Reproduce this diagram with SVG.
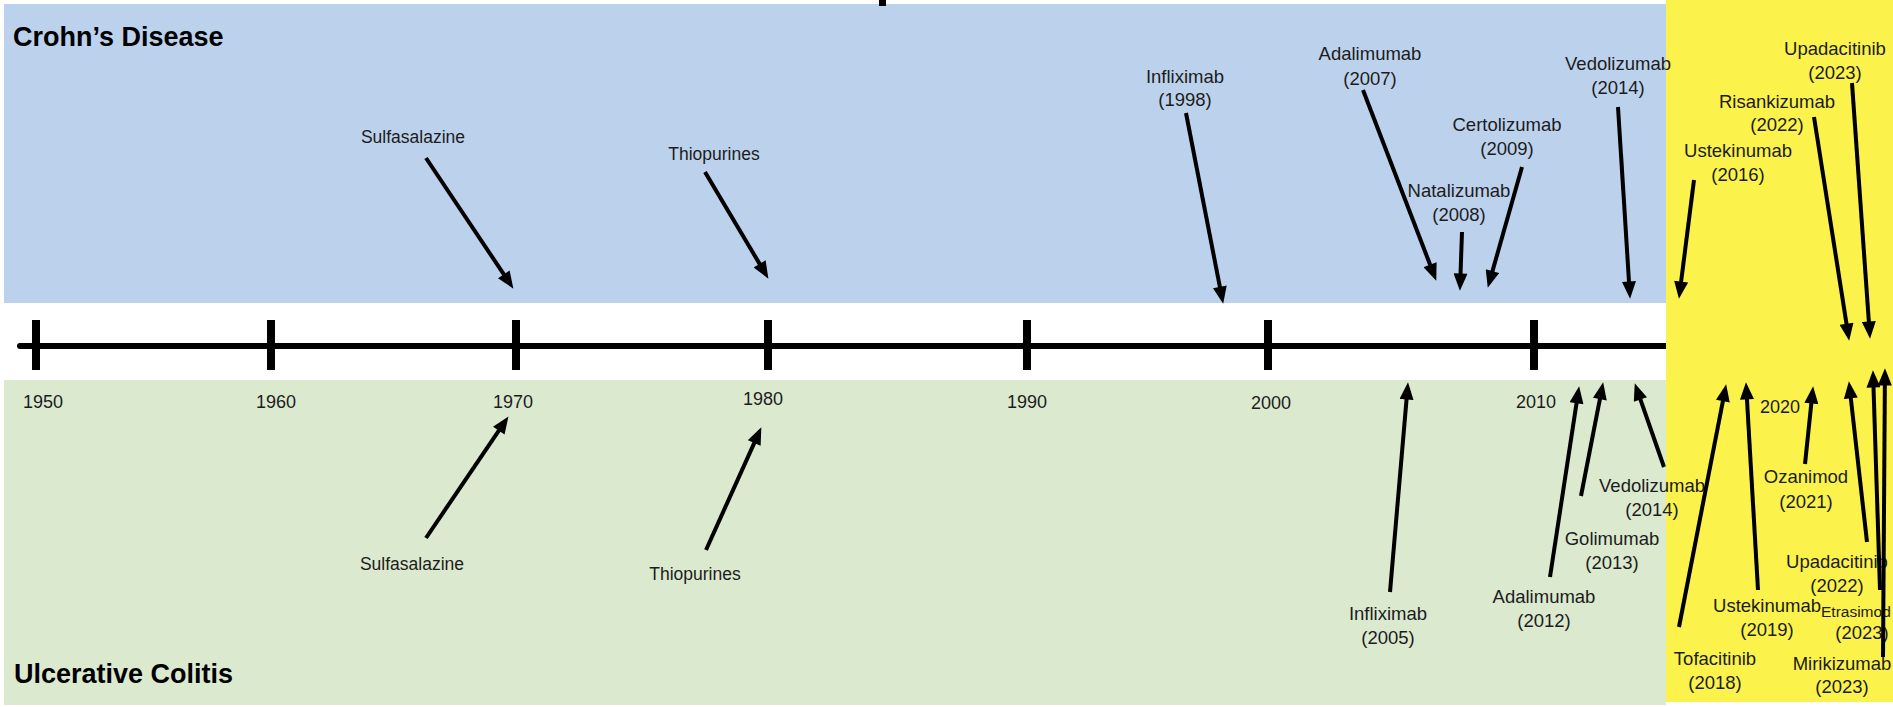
<svg xmlns="http://www.w3.org/2000/svg" width="1893" height="707" viewBox="0 0 1893 707">
<style>
text{font-family:"Liberation Sans",Arial,sans-serif;fill:#1c1c1c}
.lbl{font-size:18.5px;text-anchor:middle}
.lbs{font-size:17.5px;text-anchor:middle}
.yr{font-size:18px;text-anchor:middle}
.ttl{font-size:27px;font-weight:bold;fill:#000}
.arr{stroke:#000;stroke-width:4;fill:none;marker-end:url(#ah)}
.tick{stroke:#000;stroke-width:8}
</style>
<defs>
<marker id="ah" markerUnits="userSpaceOnUse" markerWidth="18" markerHeight="14" viewBox="0 0 16 13" refX="6" refY="6.5" orient="auto">
<path d="M0,0 L16,6.5 L0,13 z" fill="#000"/>
</marker>
</defs>
<rect width="1893" height="707" fill="#ffffff"/>
<g id="backgrounds">
<rect x="4" y="4" width="1662" height="299" fill="#bcd2ec"/>
<rect x="4" y="380" width="1662" height="325" fill="#dbe9cf"/>
</g>
<g id="timeline">
<line x1="20" y1="346" x2="1666" y2="346" stroke="#000" stroke-width="6" stroke-linecap="round"/>
<line class="tick" x1="36" y1="320" x2="36" y2="370"/>
<line class="tick" x1="271" y1="320" x2="271" y2="370"/>
<line class="tick" x1="516" y1="320" x2="516" y2="370"/>
<line class="tick" x1="768" y1="320" x2="768" y2="370"/>
<line class="tick" x1="1027" y1="320" x2="1027" y2="370"/>
<line class="tick" x1="1268" y1="320" x2="1268" y2="370"/>
<line class="tick" x1="1534" y1="320" x2="1534" y2="370"/>
</g>
<rect id="recent" x="1666" y="0" width="227" height="702" fill="#fbf34b"/>
<rect x="879" y="0" width="7" height="6" fill="#000"/>
<g id="titles">
<text class="ttl" x="13" y="46">Crohn’s Disease</text>
<text class="ttl" x="14" y="683">Ulcerative Colitis</text>
</g>
<g id="years">
<text class="yr" x="43" y="408">1950</text>
<text class="yr" x="276" y="408">1960</text>
<text class="yr" x="513" y="408">1970</text>
<text class="yr" x="763" y="405">1980</text>
<text class="yr" x="1027" y="408">1990</text>
<text class="yr" x="1271" y="409">2000</text>
<text class="yr" x="1536" y="408">2010</text>
<text class="yr" x="1780" y="413">2020</text>
</g>
<g id="cd-sulfasalazine"><text class="lbs" x="413" y="143">Sulfasalazine</text></g>
<g id="cd-thiopurines"><text class="lbs" x="714" y="160">Thiopurines</text></g>
<g id="cd-infliximab"><text class="lbl" x="1185" y="83">Infliximab</text><text class="lbl" x="1185" y="106">(1998)</text></g>
<g id="cd-adalimumab"><text class="lbl" x="1370" y="60">Adalimumab</text><text class="lbl" x="1370" y="85">(2007)</text></g>
<g id="cd-natalizumab"><text class="lbl" x="1459" y="197">Natalizumab</text><text class="lbl" x="1459" y="221">(2008)</text></g>
<g id="cd-certolizumab"><text class="lbl" x="1507" y="131">Certolizumab</text><text class="lbl" x="1507" y="155">(2009)</text></g>
<g id="cd-vedolizumab"><text class="lbl" x="1618" y="70">Vedolizumab</text><text class="lbl" x="1618" y="94">(2014)</text></g>
<g id="cd-ustekinumab"><text class="lbl" x="1738" y="157">Ustekinumab</text><text class="lbl" x="1738" y="181">(2016)</text></g>
<g id="cd-risankizumab"><text class="lbl" x="1777" y="108">Risankizumab</text><text class="lbl" x="1777" y="131">(2022)</text></g>
<g id="cd-upadacitinib"><text class="lbl" x="1835" y="55">Upadacitinib</text><text class="lbl" x="1835" y="79">(2023)</text></g>
<g id="uc-sulfasalazine"><text class="lbs" x="412" y="570">Sulfasalazine</text></g>
<g id="uc-thiopurines"><text class="lbs" x="695" y="580">Thiopurines</text></g>
<g id="uc-infliximab"><text class="lbl" x="1388" y="620">Infliximab</text><text class="lbl" x="1388" y="644">(2005)</text></g>
<g id="uc-adalimumab"><text class="lbl" x="1544" y="603">Adalimumab</text><text class="lbl" x="1544" y="627">(2012)</text></g>
<g id="uc-golimumab"><text class="lbl" x="1612" y="545">Golimumab</text><text class="lbl" x="1612" y="569">(2013)</text></g>
<g id="uc-vedolizumab"><text class="lbl" x="1652" y="492">Vedolizumab</text><text class="lbl" x="1652" y="516">(2014)</text></g>
<g id="uc-tofacitinib"><text class="lbl" x="1715" y="665">Tofacitinib</text><text class="lbl" x="1715" y="689">(2018)</text></g>
<g id="uc-ustekinumab"><text class="lbl" x="1767" y="612">Ustekinumab</text><text class="lbl" x="1767" y="636">(2019)</text></g>
<g id="uc-ozanimod"><text class="lbl" x="1806" y="483">Ozanimod</text><text class="lbl" x="1806" y="508">(2021)</text></g>
<g id="uc-upadacitinib"><text class="lbl" x="1837" y="568">Upadacitinib</text><text class="lbl" x="1837" y="592">(2022)</text></g>
<g id="uc-etrasimod"><text x="1821" y="617" font-size="15.5">Etrasimod</text><text class="lbl" x="1862" y="639">(2023)</text></g>
<g id="uc-mirikizumab"><text class="lbl" x="1842" y="670">Mirikizumab</text><text class="lbl" x="1842" y="693">(2023)</text></g>
<g id="connectors">
<line class="arr" x1="426" y1="158" x2="507.4" y2="279.7"/>
<line class="arr" x1="705" y1="172" x2="762.9" y2="269.4"/>
<line class="arr" x1="1186" y1="113" x2="1221.1" y2="293.2"/>
<line class="arr" x1="1363" y1="90" x2="1432.4" y2="270.7"/>
<line class="arr" x1="1462" y1="232" x2="1460.3" y2="280"/>
<line class="arr" x1="1522" y1="167" x2="1490.7" y2="277.4"/>
<line class="arr" x1="1618" y1="107" x2="1629.4" y2="288"/>
<line class="arr" x1="1694" y1="180" x2="1680.3" y2="288.1"/>
<line class="arr" x1="1814" y1="117" x2="1847.5" y2="330.1"/>
<line class="arr" x1="1852" y1="83" x2="1869.3" y2="328"/>
<line class="arr" x1="426" y1="538" x2="502.4" y2="425.3"/>
<line class="arr" x1="706" y1="550" x2="756.9" y2="437.1"/>
<line class="arr" x1="1390" y1="592" x2="1407.1" y2="393"/>
<line class="arr" x1="1550" y1="577" x2="1577.5" y2="396.9"/>
<line class="arr" x1="1581" y1="496" x2="1601.1" y2="392.8"/>
<line class="arr" x1="1664" y1="467" x2="1638.3" y2="393.4"/>
<line class="arr" x1="1679" y1="627" x2="1724.1" y2="394.8"/>
<line class="arr" x1="1758" y1="590" x2="1746.6" y2="393"/>
<line class="arr" x1="1805" y1="464" x2="1812" y2="397"/>
<line class="arr" x1="1867" y1="542" x2="1850.1" y2="391.9"/>
<line class="arr" x1="1880" y1="590" x2="1873.3" y2="381"/>
<line class="arr" x1="1883" y1="657" x2="1884.9" y2="379"/>
</g>
</svg>
